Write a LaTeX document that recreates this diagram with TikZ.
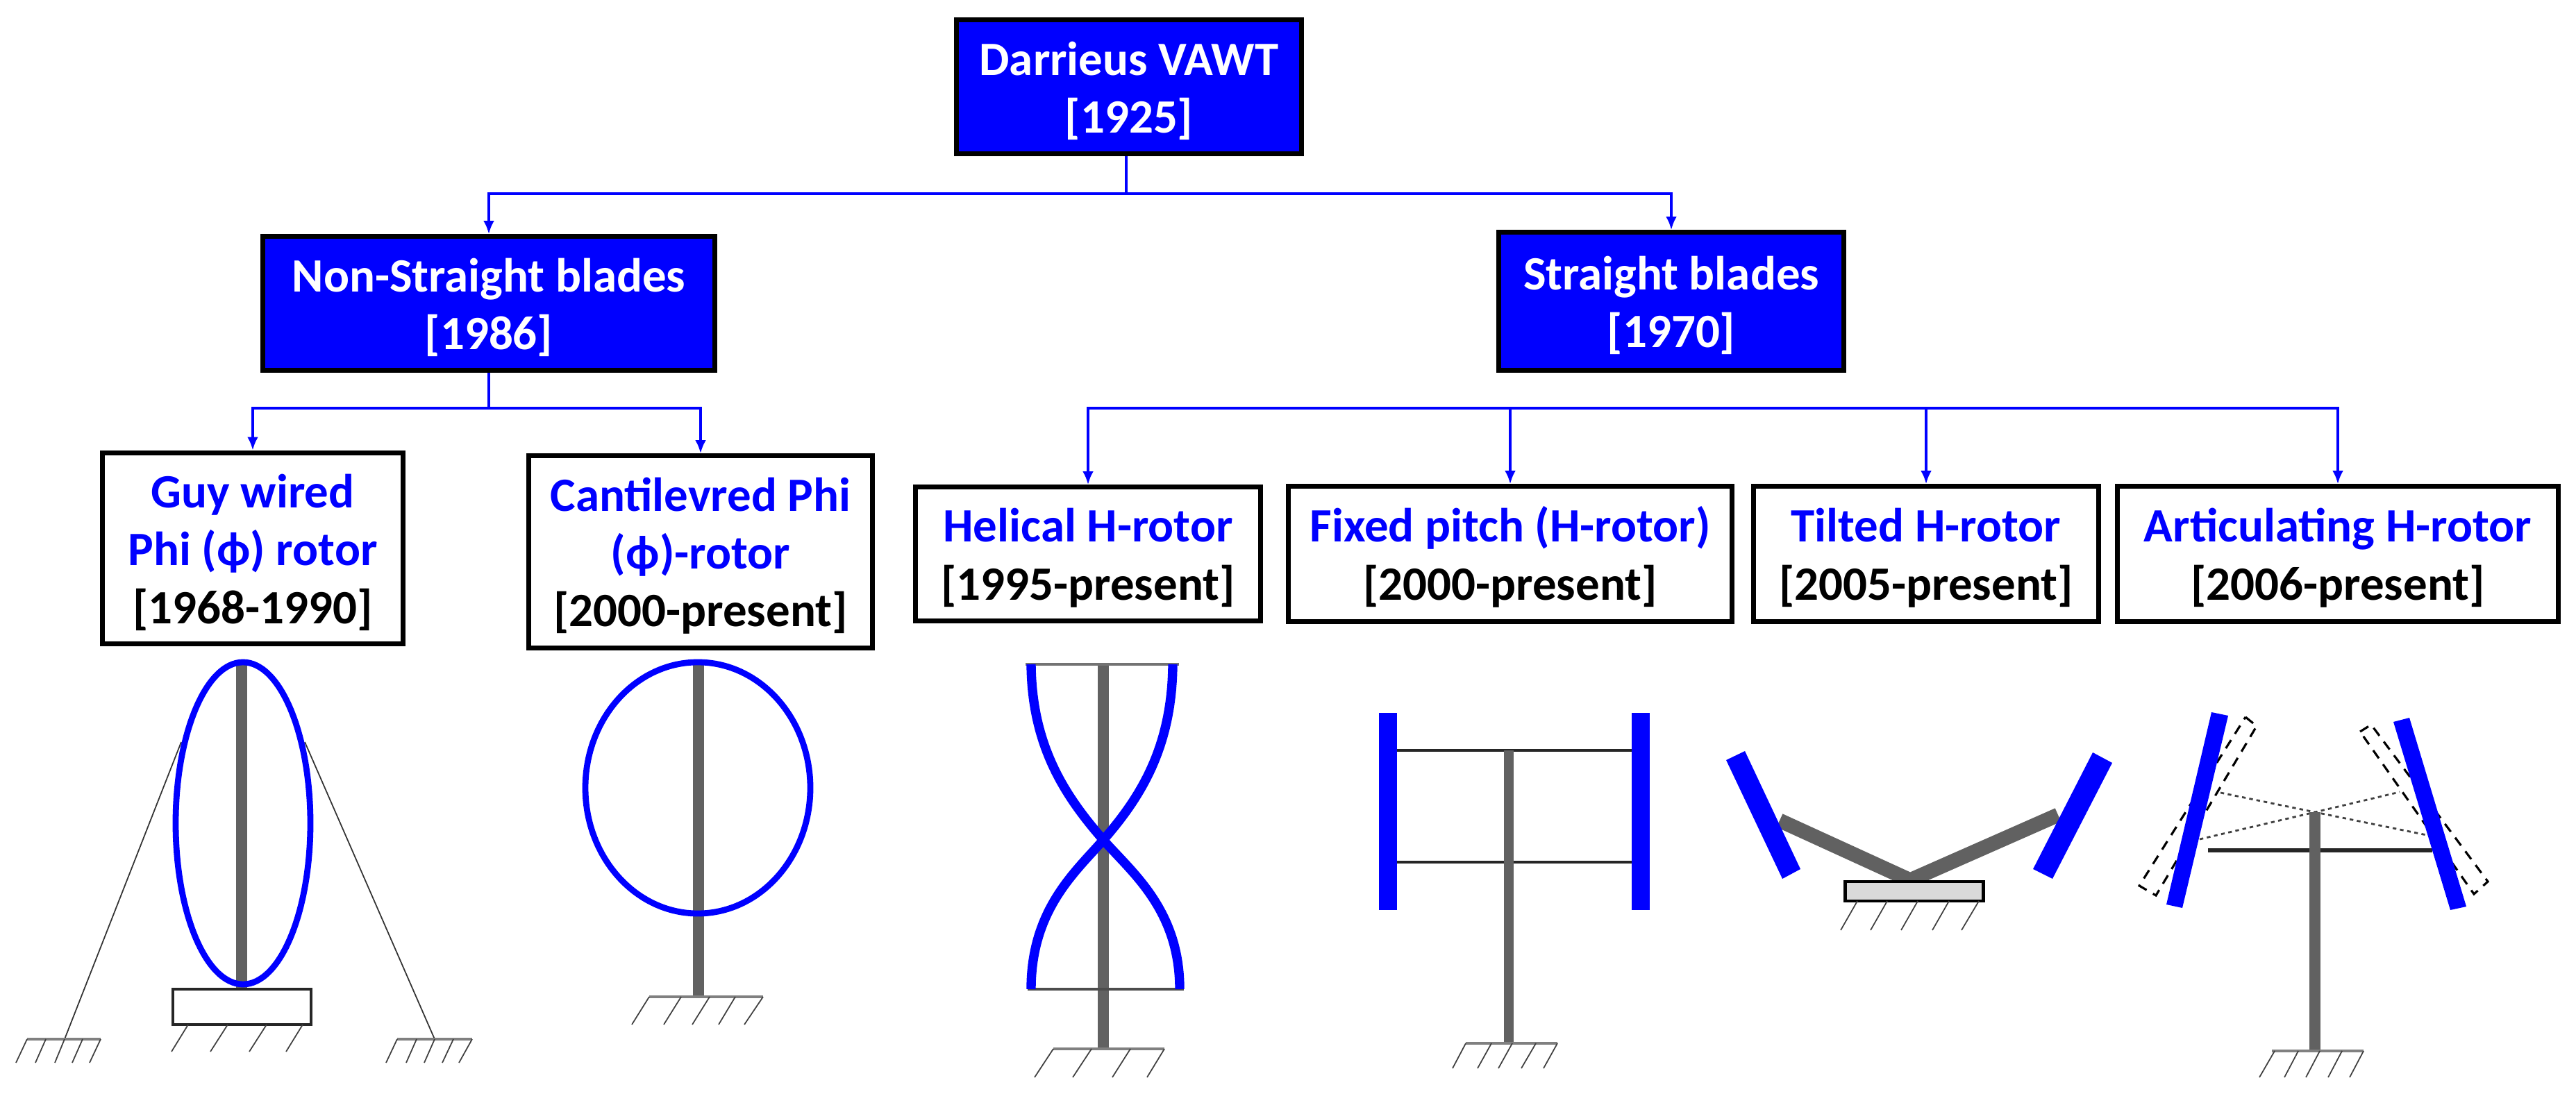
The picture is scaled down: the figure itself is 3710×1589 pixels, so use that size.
\documentclass[tikz,border=0pt]{standalone}
\usepackage{fontspec}
\setmainfont{Carlito}
\usetikzlibrary{arrows.meta}
\newcommand{\firstrow}{\rule{0pt}{17pt}}
\tikzset{
  bluebox/.style={draw=black,fill=blue,text=white,line width=2pt,rectangle,align=center,inner sep=0pt,font=\fontsize{19.6}{23.7}\selectfont\bfseries},
  whitebox/.style={draw=black,fill=white,text=black,line width=2pt,rectangle,align=center,inner sep=0pt,font=\fontsize{19.6}{23.7}\selectfont\bfseries},
  link/.style={draw=blue,line width=1.1pt},
  linkarrow/.style={link,-{Latex[length=5.5pt,width=4.5pt]}},
  mast/.style={draw=black!62,line width=4.8pt},
  blade/.style={fill=blue,draw=none},
  curveblade/.style={draw=blue,line width=3.8pt},
  loopblade/.style={draw=blue,line width=2.5pt},
  hatch/.style={draw=black!75,line width=0.5pt},
  groundline/.style={draw=black!50,line width=1.3pt},
  strut/.style={draw=black!85,line width=1.4pt},
  guywire/.style={draw=black!80,line width=0.5pt},
  ghost/.style={draw=black,dash pattern=on 4pt off 3pt,line width=0.9pt},
  ghostarm/.style={draw=black!75,dash pattern=on 1.5pt off 1.5pt,line width=0.8pt}
}
\begin{document}
\begin{tikzpicture}[x=0.01cm,y=-0.01cm]
\useasboundingbox (0,0) rectangle (3710,1589);
\node[bluebox,minimum width=4.96cm,minimum height=1.93cm] (a) at (1626,125) {\firstrow Darrieus VAWT\\{[1925]}};
\node[bluebox,minimum width=6.51cm,minimum height=1.92cm] (b) at (704,437) {\firstrow Non-Straight blades\\{[1986]}};
\node[bluebox,minimum width=4.96cm,minimum height=1.98cm] (c) at (2407,434) {\firstrow Straight blades\\{[1970]}};
\node[whitebox,minimum width=4.32cm,minimum height=2.75cm] (d) at (364,790) {\firstrow\textcolor{blue}{Guy wired}\\\textcolor{blue}{Phi (ϕ) rotor}\\{[1968-1990]}};
\node[whitebox,minimum width=4.95cm,minimum height=2.76cm] (e) at (1009,795) {\firstrow\textcolor{blue}{Cantilevred Phi}\\\textcolor{blue}{(ϕ)-rotor}\\{[2000-present]}};
\node[whitebox,minimum width=4.97cm,minimum height=1.92cm] (f) at (1567,798) {\firstrow\textcolor{blue}{Helical H-rotor}\\{[1995-present]}};
\node[whitebox,minimum width=6.39cm,minimum height=1.94cm] (g) at (2175,798) {\firstrow\textcolor{blue}{Fixed pitch (H-rotor)}\\{[2000-present]}};
\node[whitebox,minimum width=4.96cm,minimum height=1.94cm] (h) at (2774,798) {\firstrow\textcolor{blue}{Tilted H-rotor}\\{[2005-present]}};
\node[whitebox,minimum width=6.34cm,minimum height=1.94cm] (i) at (3367,798) {\firstrow\textcolor{blue}{Articulating H-rotor}\\{[2006-present]}};
\coordinate (ab) at (1622,279);
\coordinate (bd) at (b.south |- 0,588);
\coordinate (cf) at (c.south |- 0,588);
\draw[link] (a.south -| ab) -- (ab);
\draw[linkarrow] (ab) -| (b.north);
\draw[linkarrow] (ab) -| (c.north);
\draw[link] (b.south) -- (bd);
\draw[linkarrow] (bd) -| (d.north);
\draw[linkarrow] (bd) -| (e.north);
\draw[linkarrow] (cf) -| (f.north);
\draw[linkarrow] (cf) -| (g.north);
\draw[linkarrow] (cf) -| (h.north);
\draw[linkarrow] (cf) -| (i.north);
% guy wired
\draw[guywire] (261,1069) -- (93,1497);
\draw[guywire] (439,1069) -- (626,1497);
\draw[mast] (348,957) -- (348,1425);
\draw[loopblade] (350,1186) ellipse (97 and 232);
\draw[strut] (249,1425) rectangle (448,1476);
\draw[hatch] (271,1476) -- (247,1515) (328,1476) -- (303,1515) (384,1476) -- (359,1515) (436,1476) -- (412,1515);
\draw[groundline] (39,1497) -- (145,1497);
\draw[hatch] (39,1497) -- (23,1531) (66,1497) -- (51,1531) (93,1497) -- (79,1531) (119,1497) -- (104,1531) (145,1497) -- (129,1531);
\draw[groundline] (572,1497) -- (680,1497);
\draw[hatch] (572,1497) -- (556,1531) (600,1497) -- (585,1531) (626,1497) -- (611,1531) (653,1497) -- (637,1531) (680,1497) -- (661,1531);
% cantilevred
\draw[mast] (1006,957) -- (1006,1436);
\draw[loopblade] (1005,1135) ellipse (162 and 181);
\draw[groundline] (935,1436) -- (1099,1436);
\draw[hatch] (935,1436) -- (910,1476) (981,1436) -- (956,1476) (1022,1436) -- (997,1476) (1059,1436) -- (1035,1476) (1099,1436) -- (1072,1476);
% helical
\draw[mast] (1589,957) -- (1589,1511);
\draw[draw=black!55,line width=1pt] (1477,957) -- (1698,957);
\draw[draw=black!70,line width=1pt] (1480,1425) -- (1705,1425);
\draw[curveblade] (1485,957) .. controls (1486,1075) and (1534,1147) .. (1589,1210) .. controls (1629,1256) and (1699,1310) .. (1699,1425);
\draw[curveblade] (1689,957) .. controls (1688,1075) and (1644,1147) .. (1589,1210) .. controls (1549,1256) and (1485,1310) .. (1485,1425);
\draw[groundline] (1517,1511) -- (1677,1511);
\draw[hatch] (1517,1511) -- (1490,1552) (1572,1511) -- (1545,1552) (1628,1511) -- (1602,1552) (1677,1511) -- (1652,1552);
% fixed pitch
\draw[strut] (2012,1081) -- (2350,1081);
\draw[strut] (2012,1242) -- (2350,1242);
\draw[mast,line width=4.2pt] (2173,1081) -- (2173,1503);
\fill[blade] (1986,1027) rectangle (2012,1311);
\fill[blade] (2350,1027) rectangle (2376,1311);
\draw[groundline] (2111,1503) -- (2243,1503);
\draw[hatch] (2111,1503) -- (2092,1539) (2148,1503) -- (2128,1539) (2178,1503) -- (2158,1539) (2212,1503) -- (2191,1539) (2243,1503) -- (2223,1539);
% tilted
\draw[mast,line width=6pt] (2563,1182) -- (2751,1268) -- (2964,1174);
\fill[blade] (2486,1095) -- (2513,1082) -- (2593,1252) -- (2567,1266) -- cycle;
\fill[blade] (3014,1084) -- (3042,1099) -- (2956,1266) -- (2928,1252) -- cycle;
\draw[draw=black,fill=black!15,line width=1.4pt] (2657,1270) rectangle (2856,1298);
\draw[hatch] (2675,1298) -- (2651,1340) (2718,1298) -- (2694,1340) (2762,1298) -- (2738,1340) (2807,1298) -- (2783,1340) (2850,1298) -- (2825,1340);
% articulating
\draw[ghost] (3234,1033) -- (3250,1046) -- (3105,1290) -- (3081,1276) -- cycle;
\draw[ghost] (3399,1054) -- (3415,1044) -- (3583,1270) -- (3563,1288) -- cycle;
\draw[ghostarm] (3198,1142) -- (3334,1170) -- (3495,1203);
\draw[ghostarm] (3168,1209) -- (3334,1170) -- (3456,1141);
\draw[strut,line width=1.7pt] (3180,1225) -- (3503,1225);
\draw[mast,line width=4.4pt] (3334,1170) -- (3334,1514);
\fill[blade] (3185,1026) -- (3209,1031) -- (3143,1308) -- (3120,1303) -- cycle;
\fill[blade] (3447,1040) -- (3470,1034) -- (3552,1306) -- (3529,1311) -- cycle;
\draw[groundline] (3272,1514) -- (3404,1514);
\draw[hatch] (3276,1514) -- (3254,1552) (3310,1514) -- (3290,1552) (3341,1514) -- (3321,1552) (3373,1514) -- (3353,1552) (3404,1514) -- (3384,1552);
\end{tikzpicture}
\end{document}
